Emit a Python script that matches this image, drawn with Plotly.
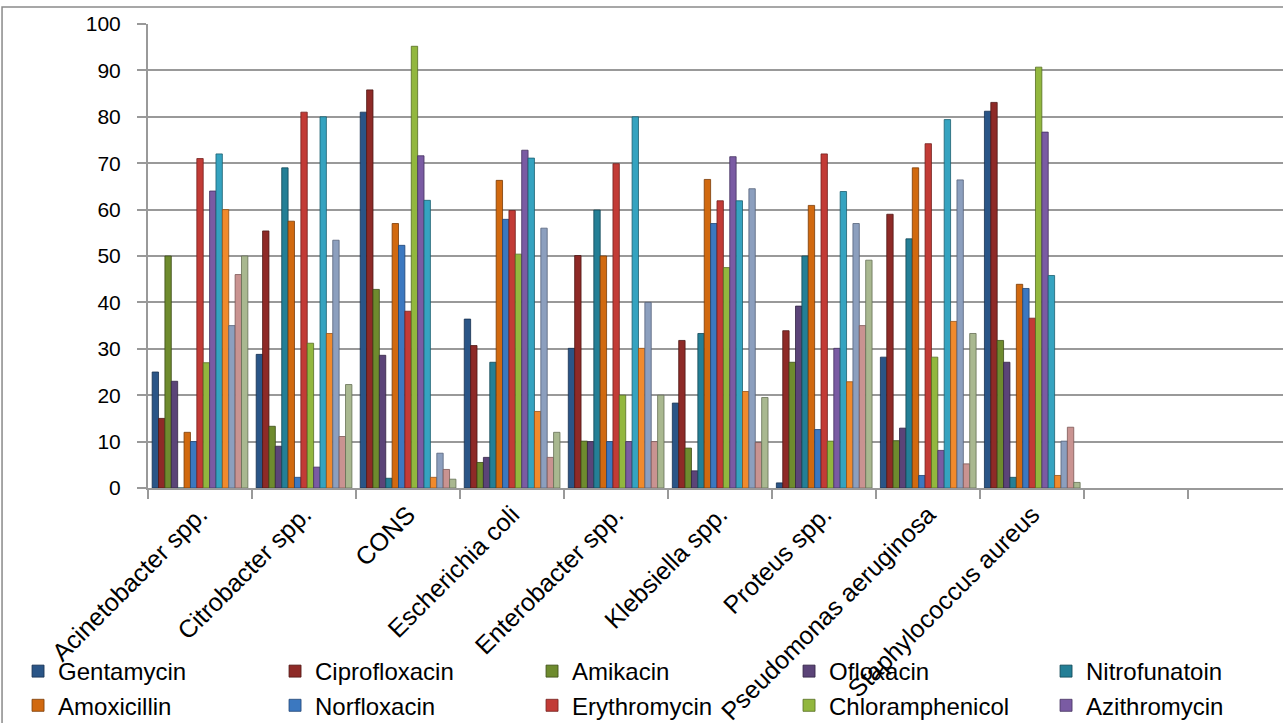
import plotly.graph_objects as go

categories = ["Acinetobacter spp.", "Citrobacter spp.", "CONS", "Escherichia coli",
              "Enterobacter spp.", "Klebsiella spp.", "Proteus spp.",
              "Pseudomonas aeruginosa", "Staphylococcus aureus"]
empty_slots = [" ", "  "]

series_names = ["Gentamycin", "Ciprofloxacin", "Amikacin", "Ofloxacin", "Nitrofunatoin",
                "Amoxicillin", "Norfloxacin", "Erythromycin", "Chloramphenicol", "Azithromycin",
                "Series 11", "Series 12", "Series 13", "Series 14", "Series 15"]
in_legend = [True] * 10 + [False] * 5

gentamycin      = [25, 28.8, 81.0, 36.4, 30.1, 18.3, 1.1, 28.2, 81.2]
ciprofloxacin   = [15, 55.4, 85.8, 30.7, 50.1, 31.8, 33.9, 59.0, 83.1]
amikacin        = [50, 13.3, 42.8, 5.5, 10.1, 8.6, 27.1, 10.2, 31.8]
ofloxacin       = [23, 9.0, 28.6, 6.6, 10.0, 3.7, 39.2, 12.9, 27.1]
nitrofunatoin   = [0, 69.0, 2.1, 27.1, 59.9, 33.3, 50.0, 53.7, 2.3]
amoxicillin     = [12, 57.5, 57.0, 66.3, 50.0, 66.5, 60.9, 69.0, 43.9]
norfloxacin     = [10, 2.3, 52.3, 57.9, 10.0, 57.0, 12.6, 2.7, 43.0]
erythromycin    = [71, 81.0, 38.1, 59.8, 69.9, 61.9, 72.0, 74.2, 36.6]
chloramphenicol = [27, 31.2, 95.2, 50.4, 20.0, 47.5, 10.1, 28.2, 90.7]
azithromycin    = [64, 4.5, 71.6, 72.8, 10.0, 71.4, 30.1, 8.1, 76.7]
series_11       = [72, 80.0, 62.0, 71.1, 80.0, 61.9, 63.9, 79.4, 45.8]
series_12       = [60, 33.3, 2.3, 16.5, 30.1, 20.8, 22.9, 35.9, 2.7]
series_13       = [35, 53.4, 7.5, 56.0, 40.0, 64.5, 57.0, 66.4, 10.1]
series_14       = [46, 11.1, 4.0, 6.6, 10.0, 9.8, 35.0, 5.2, 13.1]
series_15       = [50, 22.3, 1.9, 12.0, 20.0, 19.5, 49.1, 33.3, 1.2]

all_values = [gentamycin, ciprofloxacin, amikacin, ofloxacin, nitrofunatoin,
              amoxicillin, norfloxacin, erythromycin, chloramphenicol, azithromycin,
              series_11, series_12, series_13, series_14, series_15]

colors = ["#2A5587", "#8E2A27", "#6E8B2E", "#5B4478", "#247F96",
          "#D1690F", "#3B78C0", "#C23B36", "#92B73E", "#7A5BA3",
          "#35A3C0", "#F08A2C", "#8C9FBE", "#C99391", "#A9B890"]
edge = ["#17304F", "#4E1614", "#3C4D18", "#322544", "#124654",
        "#7A3B06", "#204473", "#72201D", "#566D22", "#45325F",
        "#1C5F70", "#955215", "#56627A", "#7C5857", "#667055"]

font_name = "Liberation Sans, Arial, sans-serif"
grid = "#999999"

fig = go.Figure()
x_all = categories + empty_slots
for i, (name, vals) in enumerate(zip(series_names, all_values)):
    fig.add_trace(go.Bar(
        x=x_all, y=list(vals) + [None, None], name=name,
        marker=dict(color=colors[i], line=dict(color=edge[i], width=0.8)),
        showlegend=in_legend[i],
    ))

fig.update_layout(
    width=1283, height=723,
    margin=dict(l=148, r=0, t=24, b=235, autoexpand=False),
    paper_bgcolor="white", plot_bgcolor="white",
    barmode="group", bargap=0.08, bargroupgap=0,
    font=dict(family=font_name, color="black"),
    showlegend=True,
    legend=dict(orientation="h", x=-0.1145, xanchor="left", y=-0.347, yanchor="top",
                font=dict(size=24, family=font_name), entrywidth=212,
                itemwidth=30, bgcolor="rgba(0,0,0,0)", traceorder="normal"),
    xaxis=dict(type="category", categoryorder="array", categoryarray=x_all,
               range=[-0.5, 10.41], tickson="boundaries", ticks="outside",
               ticklen=9, tickwidth=2, tickcolor=grid, showline=True,
               linecolor=grid, linewidth=2, showgrid=False, tickangle=-45,
               tickfont=dict(size=25, family=font_name), automargin=False),
    yaxis=dict(range=[0, 100], dtick=10, ticks="outside", ticklen=9, tickwidth=2,
               tickcolor=grid, showline=True, linecolor=grid, linewidth=2,
               showgrid=True, gridcolor=grid, gridwidth=2, zeroline=False,
               tickfont=dict(size=21, family=font_name), ticklabelstandoff=12,
               automargin=False),
    shapes=[dict(type="rect", xref="paper", yref="paper",
                 x0=-0.1286, x1=1.3, y0=-1.0, y1=1.0366,
                 line=dict(color="#8a8a8a", width=1.5), layer="below")],
)

fig.write_html("out.html")
